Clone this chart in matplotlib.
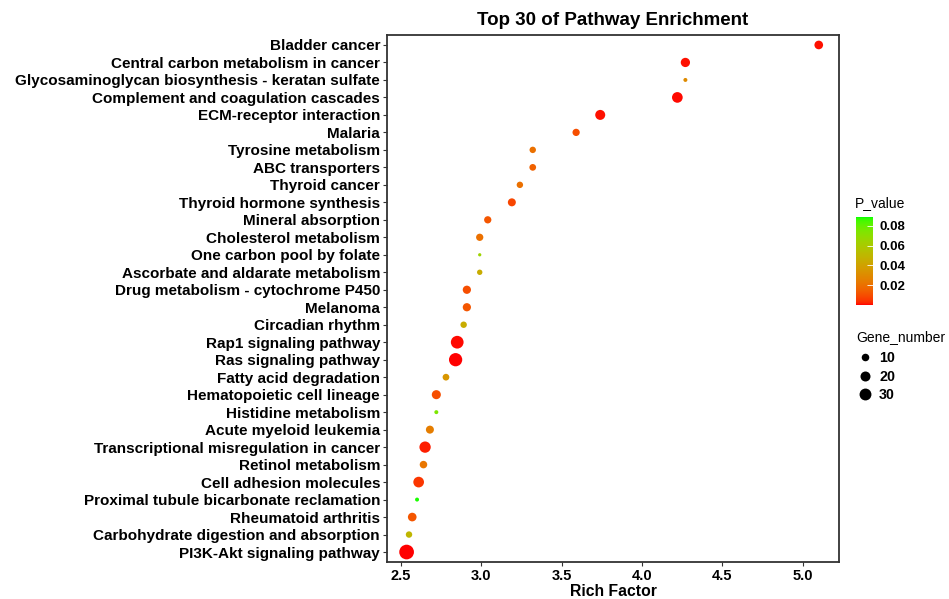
import numpy as np
import matplotlib
matplotlib.use('Agg')
import matplotlib.pyplot as plt
from matplotlib.colors import ListedColormap, Normalize
from matplotlib.lines import Line2D

pathways = [
    'Bladder cancer',
    'Central carbon metabolism in cancer',
    'Glycosaminoglycan biosynthesis - keratan sulfate',
    'Complement and coagulation cascades',
    'ECM-receptor interaction',
    'Malaria',
    'Tyrosine metabolism',
    'ABC transporters',
    'Thyroid cancer',
    'Thyroid hormone synthesis',
    'Mineral absorption',
    'Cholesterol metabolism',
    'One carbon pool by folate',
    'Ascorbate and aldarate metabolism',
    'Drug metabolism - cytochrome P450',
    'Melanoma',
    'Circadian rhythm',
    'Rap1 signaling pathway',
    'Ras signaling pathway',
    'Fatty acid degradation',
    'Hematopoietic cell lineage',
    'Histidine metabolism',
    'Acute myeloid leukemia',
    'Transcriptional misregulation in cancer',
    'Retinol metabolism',
    'Cell adhesion molecules',
    'Proximal tubule bicarbonate reclamation',
    'Rheumatoid arthritis',
    'Carbohydrate digestion and absorption',
    'PI3K-Akt signaling pathway',
]
rich_factor = [5.10, 4.27, 4.27, 4.22, 3.74, 3.59, 3.32, 3.32, 3.24, 3.19,
               3.04, 2.99, 2.99, 2.99, 2.91, 2.91, 2.89, 2.85, 2.84, 2.78,
               2.72, 2.72, 2.68, 2.65, 2.64, 2.61, 2.60, 2.57, 2.55, 2.535]
p_value = [0.001, 0.001, 0.03, 0.0005, 0.001, 0.01, 0.02, 0.015, 0.02, 0.008,
           0.012, 0.02, 0.065, 0.045, 0.01, 0.012, 0.045, 0.0005, 0.0003, 0.035,
           0.01, 0.075, 0.025, 0.002, 0.022, 0.005, 0.088, 0.012, 0.05, 0.0003]
gene_number = [17, 20, 2, 28, 24, 11, 8, 9, 8, 14,
               11, 11, 1, 5, 15, 15, 8, 42, 46, 9,
               19, 2, 14, 32, 12, 28, 2, 17, 8, 58]
legend_sizes = [10, 20, 30]
cbar_ticks = [0.02, 0.04, 0.06, 0.08]


# red -> green gradient interpolated in CIELAB, like ggplot
def to_lab(rgb):
    c = np.asarray(rgb, float)
    c = np.where(c > 0.04045, ((c + 0.055) / 1.055) ** 2.4, c / 12.92)
    m = np.array([[0.4124, 0.3576, 0.1805],
                  [0.2126, 0.7152, 0.0722],
                  [0.0193, 0.1192, 0.9505]])
    xyz = m @ c / np.array([0.95047, 1.0, 1.08883])
    f = np.where(xyz > 0.008856, np.cbrt(xyz), 7.787 * xyz + 16 / 116)
    return np.array([116 * f[1] - 16, 500 * (f[0] - f[1]), 200 * (f[1] - f[2])])


def from_lab(lab):
    L, a, b = lab
    fy = (L + 16) / 116
    f = np.array([fy + a / 500, fy, fy - b / 200])
    xyz = np.where(f ** 3 > 0.008856, f ** 3, (f - 16 / 116) / 7.787)
    xyz = xyz * np.array([0.95047, 1.0, 1.08883])
    m = np.array([[3.2406, -1.5372, -0.4986],
                  [-0.9689, 1.8758, 0.0415],
                  [0.0557, -0.2040, 1.0570]])
    c = m @ xyz
    c = np.where(c > 0.0031308, 1.055 * np.abs(c) ** (1 / 2.4) - 0.055, 12.92 * c)
    return np.clip(c, 0, 1)


lab_lo = to_lab([1, 0, 0])
lab_hi = to_lab([0, 1, 0])
cmap = ListedColormap([from_lab(lab_lo + t * (lab_hi - lab_lo)) for t in np.linspace(0, 1, 256)])
norm = Normalize(vmin=0.0, vmax=0.089)


def dot_diameter(n):
    # diameter in points
    d_px = 1.536 + 1.728 * np.sqrt(np.asarray(n, float))
    return d_px * 72 / 100


plt.rcParams['font.family'] = ['Liberation Sans', 'DejaVu Sans']

fig = plt.figure(figsize=(9.49, 5.99), dpi=100)
ax = fig.add_axes([387 / 949, 1 - 562 / 599, (839 - 387) / 949, (562 - 35) / 599])

y = np.arange(len(pathways))[::-1]
sc = ax.scatter(rich_factor, y, s=dot_diameter(gene_number) ** 2, c=p_value,
                cmap=cmap, norm=norm, edgecolors='none', zorder=3)

ax.set_yticks(y)
ax.set_yticklabels(pathways, fontsize=11, fontweight='bold', color='black')
ax.set_ylim(-0.57, len(pathways) - 1 + 0.57)
ax.set_xlim(2.413, 5.226)
ax.set_xticks([2.5, 3.0, 3.5, 4.0, 4.5, 5.0])
ax.set_xticklabels(['2.5', '3.0', '3.5', '4.0', '4.5', '5.0'], fontsize=10.5, fontweight='bold')
ax.tick_params(axis='both', length=3, color='#333333', width=0.8, pad=2)
for s in ax.spines.values():
    s.set_color('#333333')
    s.set_linewidth(1.3)

ax.set_xlabel('Rich Factor', fontsize=11.3, fontweight='bold', labelpad=1)
ax.set_title('Top 30 of Pathway Enrichment', fontsize=13.5, fontweight='bold', pad=7)

# colour legend
cax = fig.add_axes([856 / 949, 1 - 305 / 599, 17 / 949, 88 / 599])
cb = fig.colorbar(sc, cax=cax, ticks=cbar_ticks)
cb.outline.set_visible(False)
cb.ax.tick_params(length=4, color='white', width=0.6, direction='in', labelsize=9.5, pad=5)
for t in cb.ax.get_yticklabels():
    t.set_fontweight('bold')
fig.text(855 / 949, 1 - 203 / 599, 'P_value', fontsize=10, va='center', ha='left')

# size legend
fig.text(856 / 949, 1 - 337 / 599, 'Gene_number', fontsize=10, va='center', ha='left')
handles = [Line2D([], [], linestyle='none', marker='o', color='black',
                  markeredgewidth=0, markersize=dot_diameter(n) * 1.08) for n in legend_sizes]
leg = fig.legend(handles, [str(n) for n in legend_sizes],
                 loc='upper left', bbox_to_anchor=(857 / 949, 1 - 351 / 599),
                 frameon=False, fontsize=10.3, handletextpad=0.45,
                 labelspacing=0.33, borderpad=0, borderaxespad=0, handlelength=1.1)
for t in leg.get_texts():
    t.set_fontweight('bold')

plt.savefig('out.png', dpi=100)
